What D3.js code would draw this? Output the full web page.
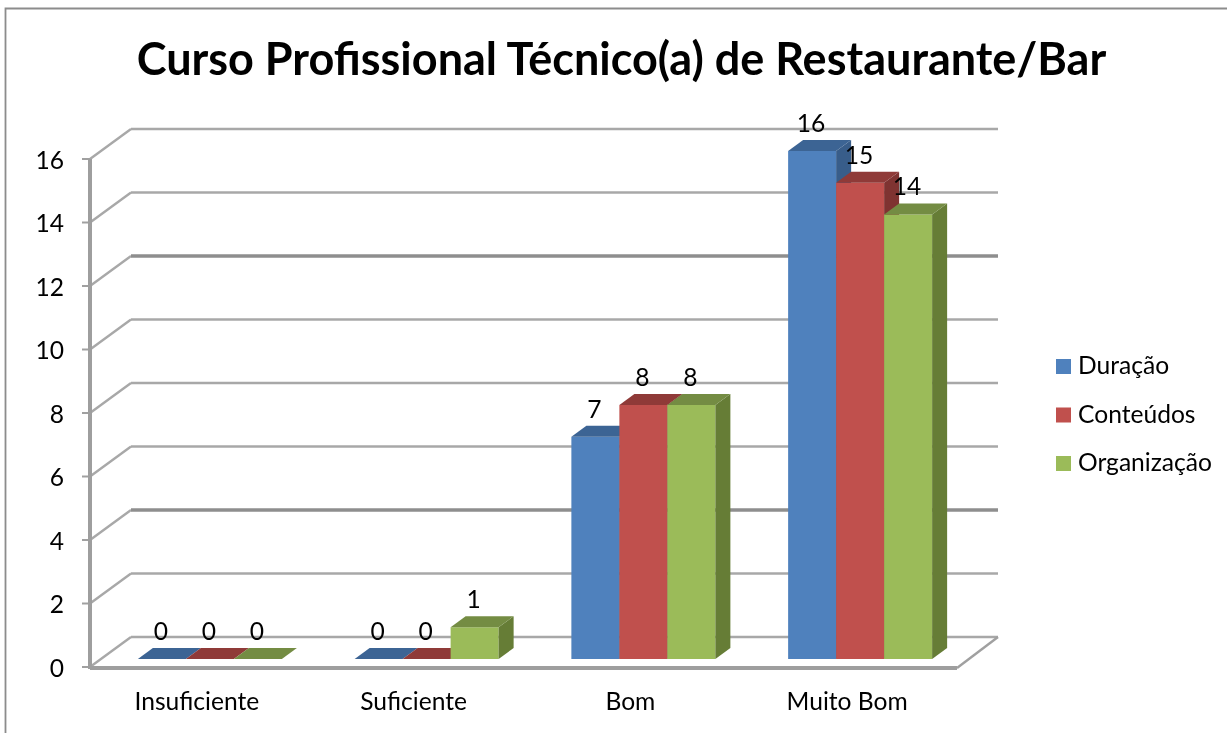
<!DOCTYPE html>
<html><head><meta charset="utf-8">
<script src="https://cdn.jsdelivr.net/npm/d3@7"></script>
<style>html,body{margin:0;padding:0;background:#fff}svg{display:block;filter:blur(0.45px)}text{font-family:Lato,"Open Sans",sans-serif;fill:#000}</style>
</head><body><svg id="c" width="1227" height="733"></svg>
<script>
const titleText = "Curso Profissional Técnico(a) de Restaurante/Bar";
const categories = ["Insuficiente","Suficiente","Bom","Muito Bom"];
const seriesNames = ["Duração","Conteúdos","Organização"];
const duracao = [0,0,7,16];
const conteudos = [0,0,8,15];
const organizacao = [0,1,8,14];
const tickValues = [0,2,4,6,8,10,12,14,16];
const seriesValues = [duracao,conteudos,organizacao];
const faceColors = ["#4f81bd","#c0504d","#9bbb59"];
const topColors = ["#3c6494","#8f3a38","#748c43"];
const sideColors = ["#385d8a","#7f3331","#667d36"];

const svg = d3.select("#c");
const left=90,right=957,wallDx=41,wallDy=-30,barDx=15,barDy=-11,floorInset=-8;
const x0 = d3.scaleBand().domain(categories).range([left,right]);
const x1 = d3.scaleBand().domain(seriesNames).range([-72,72]);
const y = d3.scaleLinear().domain([0,16]).range([667,159]);

svg.append("path").attr("d","M5.5,733V8.5H1227").attr("fill","none").attr("stroke","#8c8c8c").attr("stroke-width",1.8);
svg.append("text").attr("x",621.5).attr("y",75).attr("text-anchor","middle").attr("font-size",45).attr("font-weight",700).text(titleText);

const g = svg.append("g");
tickValues.forEach(t=>{
  const yy=y(t), strong=(t===4||t===12), col=strong?"#8e8e8e":"#a8a8a8";
  g.append("path").attr("d",`M${left},${yy}L${left+wallDx},${yy+wallDy}`).attr("fill","none").attr("stroke","#a8a8a8").attr("stroke-width",2.4);
  g.append("line").attr("x1",left+wallDx).attr("x2",right+wallDx).attr("y1",yy+wallDy).attr("y2",yy+wallDy).attr("stroke",col).attr("stroke-width",strong?3.4:2.4);
  g.append("line").attr("x1",left-8).attr("x2",left).attr("y1",yy).attr("y2",yy).attr("stroke","#a0a0a0").attr("stroke-width",2);
  svg.append("text").attr("x",64).attr("y",yy+1).attr("dy","0.36em").attr("text-anchor","end").attr("font-size",24.6).text(t);
});
g.append("path").attr("d",`M${right},${y(0)+1}L${right+wallDx},${y(0)+wallDy}`).attr("fill","none").attr("stroke","#a0a0a0").attr("stroke-width",2.4);
g.append("line").attr("x1",left).attr("x2",left).attr("y1",y(16)).attr("y2",y(0)+2).attr("stroke","#9e9e9e").attr("stroke-width",4);
g.append("line").attr("x1",left).attr("x2",right).attr("y1",y(0)+1).attr("y2",y(0)+1).attr("stroke","#9e9e9e").attr("stroke-width",4);

const bars = svg.append("g");
categories.forEach((c,i)=>{
  const cx=x0(c)+x0.bandwidth()/2+11.5;
  seriesNames.forEach((s,j)=>{
    const v=seriesValues[j][i];
    const xa=cx+x1(s), xb=xa+x1.bandwidth();
    const yt=y(v)+floorInset, yb=y(0)+floorInset;
    bars.append("rect").attr("x",xa).attr("y",yt).attr("width",xb-xa).attr("height",yb-yt).attr("fill",faceColors[j]);
    bars.append("path").attr("d",`M${xb},${yt}L${xb+barDx},${yt+barDy}V${yb+barDy}L${xb},${yb}Z`).attr("fill",sideColors[j]);
    bars.append("path").attr("d",`M${xa},${yt}L${xa+barDx},${yt+barDy}H${xb+barDx}L${xb},${yt}Z`).attr("fill",topColors[j]);
  });
});
const labels = svg.append("g");
categories.forEach((c,i)=>{
  const cx=x0(c)+x0.bandwidth()/2+11.5;
  seriesNames.forEach((s,j)=>{
    const v=seriesValues[j][i];
    labels.append("text").attr("x",cx+x1(s)+x1.bandwidth()/2-1).attr("y",y(v)-36).attr("dy","0.36em").attr("text-anchor","middle").attr("font-size",24.6).text(v);
  });
  labels.append("text").attr("x",x0(c)+x0.bandwidth()/2-1.5).attr("y",701).attr("dy","0.36em").attr("text-anchor","middle").attr("font-size",24.6).text(c);
});
const legY=d3.scalePoint().domain(seriesNames).range([366.5,463.5]);
seriesNames.forEach((s,j)=>{
  svg.append("rect").attr("x",1056).attr("y",legY(s)-7.5).attr("width",15).attr("height",15).attr("fill",faceColors[j]);
  svg.append("text").attr("x",1078).attr("y",legY(s)-1).attr("dy","0.36em").attr("font-size",24.6).text(s);
});
</script></body></html>
